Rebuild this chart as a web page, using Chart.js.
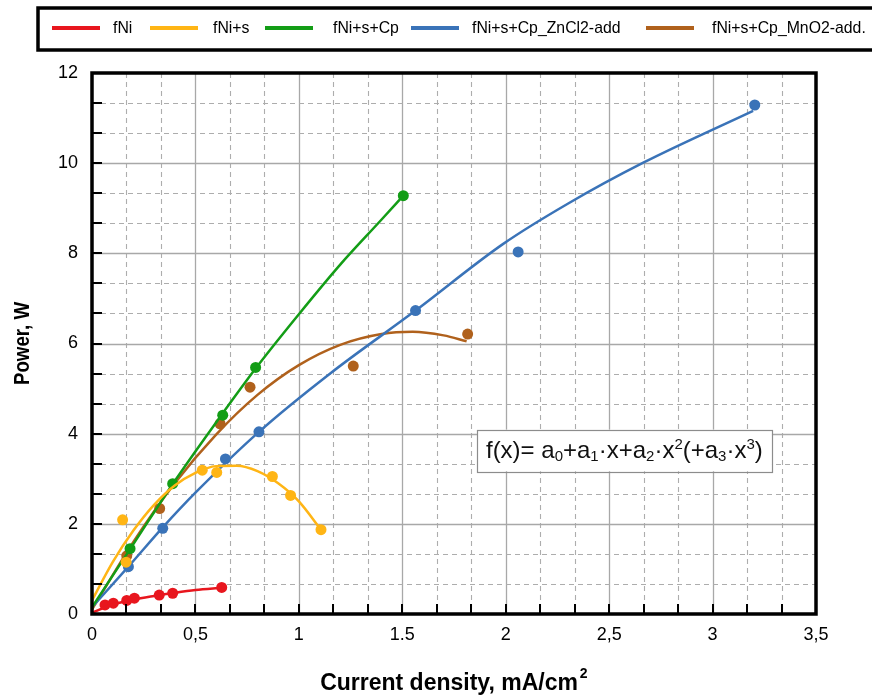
<!DOCTYPE html>
<html>
<head>
<meta charset="utf-8">
<script src="https://cdn.jsdelivr.net/npm/chart.js@4/dist/chart.umd.min.js"></script>
<style>
  html, body { margin: 0; padding: 0; background: #fff; }
</style>
</head>
<body>
<canvas id="powerChart" width="872" height="697"></canvas>
<script>
var seriesNames = ['fNi', 'fNi+s', 'fNi+s+Cp', 'fNi+s+Cp_ZnCl2-add', 'fNi+s+Cp_MnO2-add.'];
var seriesColors = ['#e8161e', '#ffb515', '#139d16', '#3a73b8', '#b0611c'];

var xTickLabels = ['0', '0,5', '1', '1.5', '2', '2,5', '3', '3,5'];
var yTickLabels = ['0', '2', '4', '6', '8', '10', '12'];

// measured points
var fNiX = [0.063, 0.103, 0.168, 0.205, 0.325, 0.39, 0.627];
var fNiY = [0.20, 0.24, 0.30, 0.35, 0.42, 0.46, 0.59];
var fNiSX = [0.148, 0.165, 0.533, 0.603, 0.872, 0.960, 1.107];
var fNiSY = [2.09, 1.15, 3.19, 3.14, 3.05, 2.63, 1.87];
var fNiSCpX = [0.184, 0.39, 0.632, 0.791, 1.505];
var fNiSCpY = [1.45, 2.89, 4.41, 5.47, 9.28];
var znX = [0.176, 0.342, 0.645, 0.807, 1.564, 2.06, 3.204];
var znY = [1.05, 1.90, 3.44, 4.04, 6.73, 8.03, 11.29];
var mnX = [0.168, 0.327, 0.619, 0.764, 1.263, 1.816];
var mnY = [1.29, 2.34, 4.22, 5.03, 5.50, 6.21];

// fitted curves
var fNiFitX = [0, 0.1, 0.2, 0.3, 0.4, 0.5, 0.627];
var fNiFitY = [0.03, 0.21, 0.32, 0.40, 0.47, 0.53, 0.58];
var fNiSFitX = [0, 0.1, 0.2, 0.3, 0.4, 0.5, 0.6, 0.7, 0.8, 0.9, 1.0, 1.107];
var fNiSFitY = [0.3, 1.15, 1.85, 2.42, 2.85, 3.13, 3.28, 3.29, 3.17, 2.9, 2.5, 1.87];
var fNiSCpFitX = [0, 0.2, 0.4, 0.6, 0.8, 1.0, 1.2, 1.4, 1.505];
var fNiSCpFitY = [0.15, 1.55, 2.95, 4.25, 5.5, 6.65, 7.75, 8.75, 9.28];
var znFitX = [0, 0.176, 0.34, 0.5, 0.807, 1.15, 1.564, 1.988, 2.3, 2.665, 3.196];
var znFitY = [0.15, 1.05, 1.91, 2.69, 4.04, 5.33, 6.73, 8.21, 9.1, 10.01, 11.16];
var mnFitX = [0, 0.2, 0.4, 0.6, 0.8, 1.0, 1.2, 1.4, 1.55, 1.7, 1.811];
var mnFitY = [0.1, 1.6, 2.9, 3.98, 4.86, 5.52, 5.97, 6.21, 6.26, 6.18, 6.05];

var pointSets = [[fNiX, fNiY], [fNiSX, fNiSY], [fNiSCpX, fNiSCpY], [znX, znY], [mnX, mnY]];
var fitSets = [[fNiFitX, fNiFitY], [fNiSFitX, fNiSFitY], [fNiSCpFitX, fNiSCpFitY], [znFitX, znFitY], [mnFitX, mnFitY]];

var FONT = "'Liberation Sans', Arial, sans-serif";

function zip(xs, ys) {
	return xs.map(function (x, i) { return {x: x, y: ys[i]}; });
}

var datasets = [];
for (var i = 0; i < seriesNames.length; i++) {
	datasets.push({
		label: seriesNames[i],
		data: zip(fitSets[i][0], fitSets[i][1]),
		showLine: true,
		borderColor: seriesColors[i],
		backgroundColor: seriesColors[i],
		borderWidth: 2.5,
		pointRadius: 0,
		cubicInterpolationMode: 'monotone',
		isFit: true
	});
	datasets.push({
		label: seriesNames[i] + ' data',
		data: zip(pointSets[i][0], pointSets[i][1]),
		showLine: false,
		backgroundColor: seriesColors[i],
		borderWidth: 0,
		pointRadius: 5.5
	});
}

function hline(c, x1, x2, y) { c.beginPath(); c.moveTo(x1, y); c.lineTo(x2, y); c.stroke(); }
function vline(c, x, y1, y2) { c.beginPath(); c.moveTo(x, y1); c.lineTo(x, y2); c.stroke(); }

// text squeezed sideways, like a narrow face
function narrowText(c, s, x, y, sx) {
	c.save();
	c.translate(x, y);
	c.scale(sx, 1);
	c.fillText(s, 0, 0);
	c.restore();
}

var decor = {
	id: 'decor',
	beforeDatasetsDraw: function (chart) {
		var c = chart.ctx, a = chart.chartArea, xs = chart.scales.x, ys = chart.scales.y;
		c.save();
		// grid: solid on labelled values, dashed at thirds between them
		for (var i = 1; i < 21; i++) {
			var px = Math.round(xs.getPixelForValue(i / 6)) + 0.5;
			var major = i % 3 === 0;
			c.strokeStyle = major ? '#a8a8a8' : '#adadad';
			c.lineWidth = major ? 1.3 : 1.1;
			c.setLineDash(major ? [] : [5, 4]);
			vline(c, px, a.top, a.bottom);
		}
		for (var j = 1; j < 18; j++) {
			var py = Math.round(ys.getPixelForValue(j * 2 / 3)) + 0.5;
			var majorY = j % 3 === 0;
			c.strokeStyle = majorY ? '#a8a8a8' : '#adadad';
			c.lineWidth = majorY ? 1.3 : 1.1;
			c.setLineDash(majorY ? [] : [5, 4]);
			hline(c, a.left, a.right, py);
		}
		c.restore();
	},
	afterDatasetsDraw: function (chart) {
		var c = chart.ctx, a = chart.chartArea, xs = chart.scales.x, ys = chart.scales.y;
		c.save();
		// inward tick marks
		c.strokeStyle = '#000';
		c.lineWidth = 2;
		for (var i = 1; i < 21; i++) {
			var px = Math.round(xs.getPixelForValue(i / 6));
			vline(c, px, a.bottom, a.bottom - 10);
		}
		for (var j = 1; j < 18; j++) {
			var py = Math.round(ys.getPixelForValue(j * 2 / 3));
			hline(c, a.left, a.left + 10, py);
		}
		// plot frame
		c.lineWidth = 3.5;
		c.strokeRect(a.left, a.top, a.right - a.left, a.bottom - a.top);

		// formula box
		var bx1 = xs.getPixelForValue(1.861), bx2 = xs.getPixelForValue(3.287);
		var by1 = ys.getPixelForValue(4.09), by2 = ys.getPixelForValue(3.165);
		c.fillStyle = '#fff';
		c.fillRect(bx1, by1, bx2 - bx1, by2 - by1);
		c.strokeStyle = '#8c8c8c';
		c.lineWidth = 1.2;
		c.strokeRect(Math.round(bx1) + 0.5, Math.round(by1) + 0.5, Math.round(bx2 - bx1), Math.round(by2 - by1));
		var parts = [['f(x)= a', 0], ['0', -1], ['+a', 0], ['1', -1], ['\u00b7x+a', 0], ['2', -1],
			['\u00b7x', 0], ['2', 1], ['(+a', 0], ['3', -1], ['\u00b7x', 0], ['3', 1], [')', 0]];
		var tx = bx1 + 9, base = (by1 + by2) / 2 + 8;
		c.fillStyle = '#111';
		c.textBaseline = 'alphabetic';
		c.textAlign = 'left';
		parts.forEach(function (p) {
			c.font = (p[1] === 0 ? '24px ' : '15px ') + FONT;
			var dy = p[1] === -1 ? 3 : (p[1] === 1 ? -9 : 0);
			c.fillText(p[0], tx, base + dy);
			tx += c.measureText(p[0]).width;
		});
		c.restore();
	},
	afterDraw: function (chart) {
		var c = chart.ctx, a = chart.chartArea;
		c.save();
		// legend box
		c.strokeStyle = '#000';
		c.lineWidth = 3.5;
		c.strokeRect(38, 8, 900, 42);
		var lineX = [52, 150, 265, 411, 646];
		var textX = [113, 213, 333, 472, 712];
		c.font = '17px ' + FONT;
		c.textBaseline = 'middle';
		c.textAlign = 'left';
		chart.data.datasets.filter(function (d) { return d.isFit; }).forEach(function (d, k) {
			c.strokeStyle = d.borderColor;
			c.lineWidth = 4;
			hline(c, lineX[k], lineX[k] + 48, 28);
			c.fillStyle = '#000';
			narrowText(c, d.label, textX[k], 28, 0.93);
		});
		// axis titles
		c.fillStyle = '#000';
		c.font = 'bold 23px ' + FONT;
		c.textBaseline = 'alphabetic';
		var title = 'Current density, mA/cm';
		var w = c.measureText(title).width;
		var x0 = (a.left + a.right) / 2 - (w + 10) / 2;
		c.fillText(title, x0, 690);
		c.font = 'bold 14px ' + FONT;
		c.fillText('2', x0 + w + 2, 678);
		c.translate(29, (a.top + a.bottom) / 2);
		c.rotate(-Math.PI / 2);
		c.font = 'bold 22px ' + FONT;
		c.textAlign = 'center';
		narrowText(c, 'Power, W', 0, 0, 0.85);
		c.restore();
	}
};

var ctx = document.getElementById('powerChart').getContext('2d');
var powerChart = new Chart(ctx, {
	type: 'scatter',
	data: {datasets: datasets},
	plugins: [decor],
	options: {
		responsive: false,
		animation: false,
		layout: {
			padding: {top: 73, right: 56, left: 0, bottom: 0}
		},
		plugins: {
			legend: {display: false},
			tooltip: {enabled: false}
		},
		scales: {
			x: {
				type: 'linear',
				min: 0,
				max: 3.5,
				grid: {display: false, drawTicks: false},
				border: {display: false},
				ticks: {
					stepSize: 0.5,
					autoSkip: false,
					maxRotation: 0,
					padding: 10,
					color: '#000',
					font: {size: 18, family: FONT},
					callback: function (v, idx) { return xTickLabels[idx]; }
				},
				afterFit: function (s) { s.height = 83; }
			},
			y: {
				min: 0,
				max: 12,
				grid: {display: false, drawTicks: false},
				border: {display: false},
				ticks: {
					stepSize: 2,
					padding: 14,
					color: '#000',
					font: {size: 18, family: FONT},
					callback: function (v, idx) { return yTickLabels[idx]; }
				},
				afterFit: function (s) { s.width = 92; }
			}
		}
	}
});
</script>
</body>
</html>
